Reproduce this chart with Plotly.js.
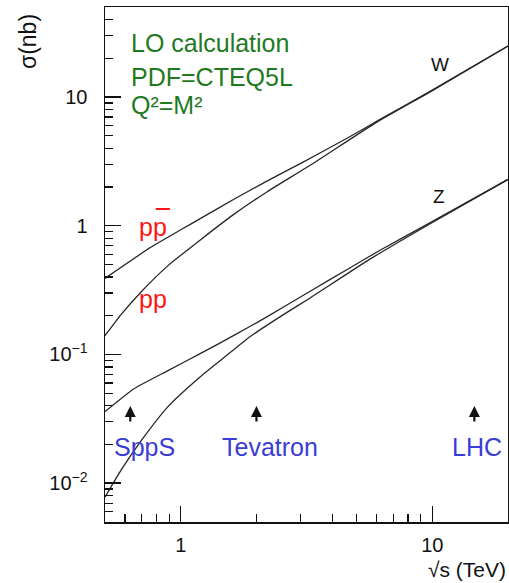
<!DOCTYPE html>
<html>
<head>
<meta charset="utf-8">
<script src="https://cdn.plot.ly/plotly-3.0.1.min.js"></script>
<style>
  html, body { margin: 0; padding: 0; background: #ffffff; }
  #chart { width: 509px; height: 583px; }
</style>
</head>
<body>
<div id="chart"></div>
<script>
// ---- Data (sqrt(s) in TeV, sigma in nb) ----
const sqrtS_W_ppbar = [0.5, 0.76, 1.0, 1.2, 1.62, 2.2, 3.0, 4.6, 6.2, 10, 20];
const sigma_W_ppbar = [0.39, 0.68, 0.93, 1.14, 1.6, 2.22, 3.05, 4.8, 6.7, 11.3, 24.9];

const sqrtS_W_pp = [0.5, 0.58, 0.7, 0.89, 1.2, 1.62, 2.2, 3.27, 6.0, 10, 20];
const sigma_W_pp = [0.14, 0.205, 0.31, 0.49, 0.78, 1.22, 1.83, 2.95, 6.35, 11.2, 24.9];

const sqrtS_Z_ppbar = [0.5, 0.65, 0.89, 1.2, 1.62, 2.2, 3.27, 4.7, 6.2, 9.5, 20];
const sigma_Z_ppbar = [0.036, 0.054, 0.075, 0.102, 0.14, 0.196, 0.31, 0.47, 0.645, 1.02, 2.29];

const sqrtS_Z_pp = [0.5, 0.58, 0.7, 0.89, 1.2, 1.48, 1.89, 2.56, 3.27, 5.65, 9.5, 20];
const sigma_Z_pp = [0.0078, 0.0127, 0.0217, 0.0394, 0.0675, 0.094, 0.138, 0.204, 0.275, 0.55, 1.0, 2.29];

const colliderNames = ['SppS', 'Tevatron', 'LHC'];
const colliderSqrtS = [0.63, 2.0, 14.7];

const infoLines = ['LO calculation', 'PDF=CTEQ5L', 'Q\u00B2=M\u00B2'];

// tick values and labels
const xMajorTicks = [1, 10];
const xMajorLabels = ['1', '10'];
const xMinorTicks = [0.5, 0.6, 0.7, 0.8, 0.9, 2, 3, 4, 5, 6, 7, 8, 9, 20];
const yMajorTicks = [0.01, 0.1, 1, 10];
const yMajorLabels = ['10<sup>\u22122</sup>', '10<sup>\u22121</sup>', '1', '10'];
const yMinorTicks = [0.005, 0.006, 0.007, 0.008, 0.009,
                     0.02, 0.03, 0.04, 0.05, 0.06, 0.07, 0.08, 0.09,
                     0.2, 0.3, 0.4, 0.5, 0.6, 0.7, 0.8, 0.9,
                     2, 3, 4, 5, 6, 7, 8, 9,
                     20, 30, 40, 50];

// ---- Styles ----
const FONT = 'Liberation Sans, Arial, Helvetica, sans-serif';
const lineStyle = { color: '#262626', width: 1.3, shape: 'spline', smoothing: 0.5 };

function curve(x, y) {
  return { x: x, y: y, type: 'scatter', mode: 'lines', line: lineStyle, hoverinfo: 'skip' };
}

const traces = [
  curve(sqrtS_W_ppbar, sigma_W_ppbar),
  curve(sqrtS_W_pp, sigma_W_pp),
  curve(sqrtS_Z_ppbar, sigma_Z_ppbar),
  curve(sqrtS_Z_pp, sigma_Z_pp),
  // invisible companion so the minor-tick axes are drawn
  { x: sqrtS_W_ppbar, y: sigma_W_ppbar, xaxis: 'x2', yaxis: 'y2', type: 'scatter', mode: 'lines',
    line: { color: 'rgba(0,0,0,0)', width: 0 }, hoverinfo: 'skip' }
];

const green = '#1f7a1f';
const red = '#ff1414';
const blue = '#3b3bd6';

const annotations = [];
const infoY = [0.930, 0.865, 0.809];
infoLines.forEach((t, i) => annotations.push({
  text: t, xref: 'paper', yref: 'paper', x: 0.0596, y: infoY[i],
  xanchor: 'left', yanchor: 'middle', showarrow: false,
  font: { family: FONT, size: 25, color: green }
}));

annotations.push({ text: 'pp', xref: 'paper', yref: 'paper', x: 0.08, y: 0.573,
  xanchor: 'left', yanchor: 'middle', showarrow: false, font: { family: FONT, size: 25, color: red } });
annotations.push({ text: 'pp', xref: 'paper', yref: 'paper', x: 0.08, y: 0.433,
  xanchor: 'left', yanchor: 'middle', showarrow: false, font: { family: FONT, size: 25, color: red } });

annotations.push({ text: 'W', xref: 'paper', yref: 'paper', x: 0.8313, y: 0.8874,
  xanchor: 'center', yanchor: 'middle', showarrow: false, font: { family: FONT, size: 19, color: '#111' } });
annotations.push({ text: 'Z', xref: 'paper', yref: 'paper', x: 0.8288, y: 0.633,
  xanchor: 'center', yanchor: 'middle', showarrow: false, font: { family: FONT, size: 19, color: '#111' } });

const colliderLabelX = [0.0174, 0.2854, 0.856];
colliderNames.forEach((n, i) => {
  annotations.push({ text: n, xref: 'paper', yref: 'paper', x: colliderLabelX[i], y: 0.1456,
    xanchor: 'left', yanchor: 'middle', showarrow: false, font: { family: FONT, size: 25, color: blue } });
  annotations.push({ text: '', x: Math.log10(colliderSqrtS[i]), xref: 'x', yref: 'paper', y: 0.2252,
    showarrow: true, ax: 0, ay: 17, arrowhead: 2, arrowsize: 1, arrowwidth: 2.2,
    arrowcolor: '#111', standoff: 0, startstandoff: 0 });
});

annotations.push({ text: 'σ(nb)', xref: 'paper', yref: 'paper', x: -0.191, y: 0.932,
  xanchor: 'center', yanchor: 'middle', textangle: -90, showarrow: false,
  font: { family: FONT, size: 23, color: '#111' } });
annotations.push({ text: '√s (TeV)', xref: 'paper', yref: 'paper', x: 1.0, y: -0.0913,
  xanchor: 'right', yanchor: 'middle', showarrow: false,
  font: { family: FONT, size: 21, color: '#111' } });

const shapes = [{
  type: 'line', xref: 'paper', yref: 'paper', x0: 0.126, x1: 0.161, y0: 0.6078, y1: 0.6078,
  line: { color: red, width: 2 }
}];

const xRange = [Math.log10(0.5), Math.log10(20)];
const yRange = [Math.log10(0.005), Math.log10(50)];

const majorCommon = {
  type: 'log', tickmode: 'array',
  ticks: 'inside', ticklen: 16, tickwidth: 1.5, tickcolor: '#111',
  showline: true, mirror: true, linecolor: '#111', linewidth: 1.5,
  showgrid: false, zeroline: false,
  tickfont: { family: FONT, size: 20, color: '#111' }
};
const minorCommon = {
  type: 'log', tickmode: 'array', ticks: 'inside', ticklen: 8, tickwidth: 1.3, tickcolor: '#111',
  showticklabels: false, showline: false, showgrid: false, zeroline: false
};

const layout = {
  width: 509, height: 583,
  margin: { l: 105, r: 1, t: 7, b: 61 },
  paper_bgcolor: '#ffffff', plot_bgcolor: '#ffffff',
  showlegend: false, hovermode: false,
  xaxis: Object.assign({}, majorCommon, { range: xRange, tickvals: xMajorTicks, ticktext: xMajorLabels, ticklabelstandoff: 4 }),
  yaxis: Object.assign({}, majorCommon, { range: yRange, tickvals: yMajorTicks, ticktext: yMajorLabels, ticklabelstandoff: 12 }),
  xaxis2: Object.assign({}, minorCommon, { range: xRange, tickvals: xMinorTicks, overlaying: 'x', anchor: 'y2', side: 'bottom' }),
  yaxis2: Object.assign({}, minorCommon, { range: yRange, tickvals: yMinorTicks, overlaying: 'y', anchor: 'x2', side: 'left' }),
  annotations: annotations,
  shapes: shapes
};

Plotly.newPlot('chart', traces, layout, { staticPlot: true, displayModeBar: false });
</script>
</body>
</html>
